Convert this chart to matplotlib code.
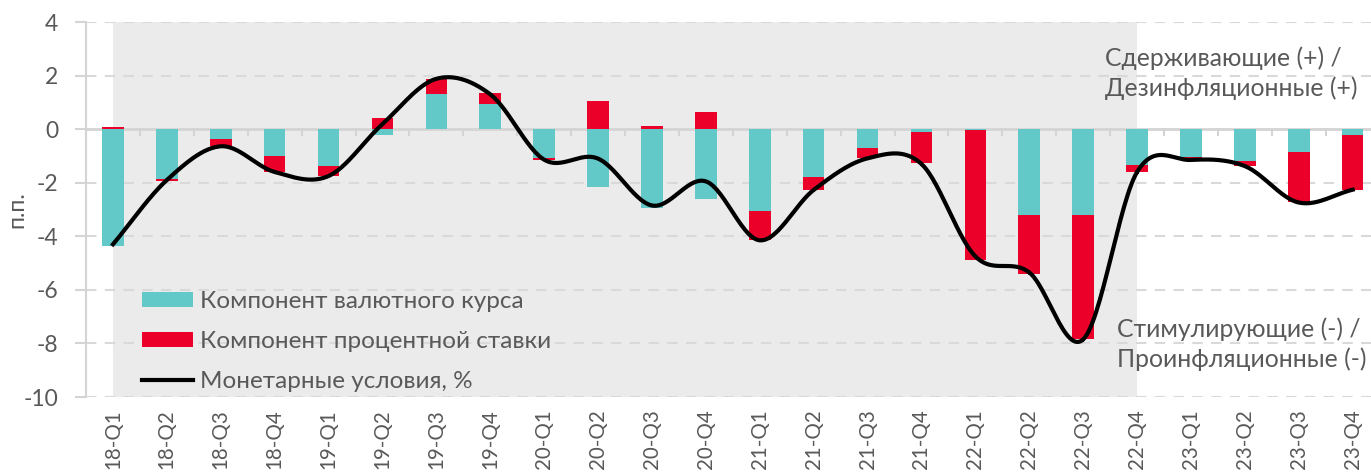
import matplotlib.pyplot as plt
import numpy as np

plt.rcParams['font.family'] = ['Lato', 'DejaVu Sans']
plt.rcParams['axes.unicode_minus'] = False

quarters = ['18-Q1', '18-Q2', '18-Q3', '18-Q4', '19-Q1', '19-Q2', '19-Q3', '19-Q4',
            '20-Q1', '20-Q2', '20-Q3', '20-Q4', '21-Q1', '21-Q2', '21-Q3', '21-Q4',
            '22-Q1', '22-Q2', '22-Q3', '22-Q4', '23-Q1', '23-Q2', '23-Q3', '23-Q4']
fx_comp = [-4.37, -1.86, -0.37, -1.01, -1.36, -0.23, 1.31, 0.94,
           -1.08, -2.16, -2.94, -2.59, -3.04, -1.80, -0.69, -0.09,
           -0.02, -3.20, -3.22, -1.35, -1.03, -1.19, -0.87, -0.22]
rate_comp = [0.08, -0.06, -0.25, -0.59, -0.40, 0.42, 0.57, 0.40,
             -0.06, 1.06, 0.12, 0.64, -1.11, -0.47, -0.40, -1.19,
             -4.85, -2.19, -4.62, -0.26, -0.07, -0.20, -1.85, -2.04]
mci = [-4.30, -1.90, -0.64, -1.60, -1.75, 0.19, 1.88, 1.30,
       -1.14, -1.10, -2.85, -1.95, -4.15, -2.27, -1.09, -1.30,
       -4.75, -5.35, -7.85, -1.60, -1.15, -1.38, -2.74, -2.26]

teal = '#63C9C8'
red = '#EA0029'
grey_txt = '#595959'


def smooth(xs, ys, n=30):
    # Catmull-Rom curve through the points, like Excel's smoothed line
    xs = np.asarray(xs, float)
    ys = np.asarray(ys, float)
    px = np.concatenate([[2 * xs[0] - xs[1]], xs, [2 * xs[-1] - xs[-2]]])
    py = np.concatenate([[2 * ys[0] - ys[1]], ys, [2 * ys[-1] - ys[-2]]])
    t = np.linspace(0, 1, n)[:, None]
    outx, outy = [], []
    for i in range(1, len(px) - 2):
        for p, out in ((px, outx), (py, outy)):
            p0, p1, p2, p3 = p[i - 1], p[i], p[i + 1], p[i + 2]
            seg = 0.5 * ((2 * p1) + (-p0 + p2) * t + (2 * p0 - 5 * p1 + 4 * p2 - p3) * t ** 2
                         + (-p0 + 3 * p1 - 3 * p2 + p3) * t ** 3)
            out.append(seg.ravel())
    return np.concatenate(outx), np.concatenate(outy)


x = np.arange(len(quarters))
fx = np.array(fx_comp)
rc = np.array(rate_comp)
rc_bottom = np.where(np.sign(rc) == np.sign(fx), fx, 0)

fig = plt.figure(figsize=(13.71, 4.73), dpi=100)
ax = fig.add_axes([86 / 1371, 76 / 473, 1285 / 1371, 375 / 473])

ax.axvspan(0, 19, color='#EBEBEB', zorder=0, lw=0)
for yy in range(-10, 5, 2):
    if yy != 0:
        ax.axhline(yy, color='#D9D9D9', lw=1.5, ls=(0, (5, 4)), zorder=1)
ax.axhline(0, color='#D4D4D4', lw=2, zorder=1)

ax.bar(x, fx, width=0.4, color=teal, zorder=2, label='Компонент валютного курса')
ax.bar(x, rc, width=0.4, bottom=rc_bottom, color=red, zorder=2, label='Компонент процентной ставки')
sx, sy = smooth(x, mci)
ax.plot(sx, sy, color='black', lw=3, zorder=3, label='Монетарные условия, %')

# small ticks on the zero line between categories
for b in np.arange(-0.5, 24, 1):
    ax.plot([b, b], [0, -0.22], color='#D4D4D4', lw=1.5, zorder=1, clip_on=False)

ax.set_xlim(-0.5, 23.34)
ax.set_ylim(-10, 4)
ax.set_yticks(range(-10, 5, 2))
ax.set_xticks(x)
ax.set_xticklabels(quarters, rotation=90)
ax.tick_params(axis='x', length=0, pad=9, labelsize=14.8, colors=grey_txt)
ax.tick_params(axis='y', length=8, width=1.5, labelsize=16.5, colors=grey_txt, pad=12)
ax.tick_params(axis='y', color='#D4D4D4')
for s in ['top', 'right', 'bottom']:
    ax.spines[s].set_visible(False)
ax.spines['left'].set_color('#D4D4D4')
ax.spines['left'].set_linewidth(1.5)
ax.set_ylabel('п.п.', fontsize=16.5, color=grey_txt, va='center')
ax.yaxis.set_label_coords(-69 / 1285, 0.5)

fig.text(1105 / 1371, 1 - 73 / 473, 'Сдерживающие (+) /\nДезинфляционные (+)',
         fontsize=17.8, color=grey_txt, va='center', linespacing=1.3)
fig.text(1117 / 1371, 1 - 344 / 473, 'Стимулирующие (-) /\nПроинфляционные (-)',
         fontsize=17.8, color=grey_txt, va='center', linespacing=1.3)

handles, labels = ax.get_legend_handles_labels()
order = [1, 2, 0]
ax.legend([handles[i] for i in order], [labels[i] for i in order],
          loc='lower left', bbox_to_anchor=(0.034, -0.02), frameon=False, fontsize=17.5,
          borderpad=0, handlelength=2.1, handleheight=0.58, labelspacing=0.78,
          handletextpad=0.3, labelcolor=grey_txt)

fig.savefig('out.png', dpi=100)
